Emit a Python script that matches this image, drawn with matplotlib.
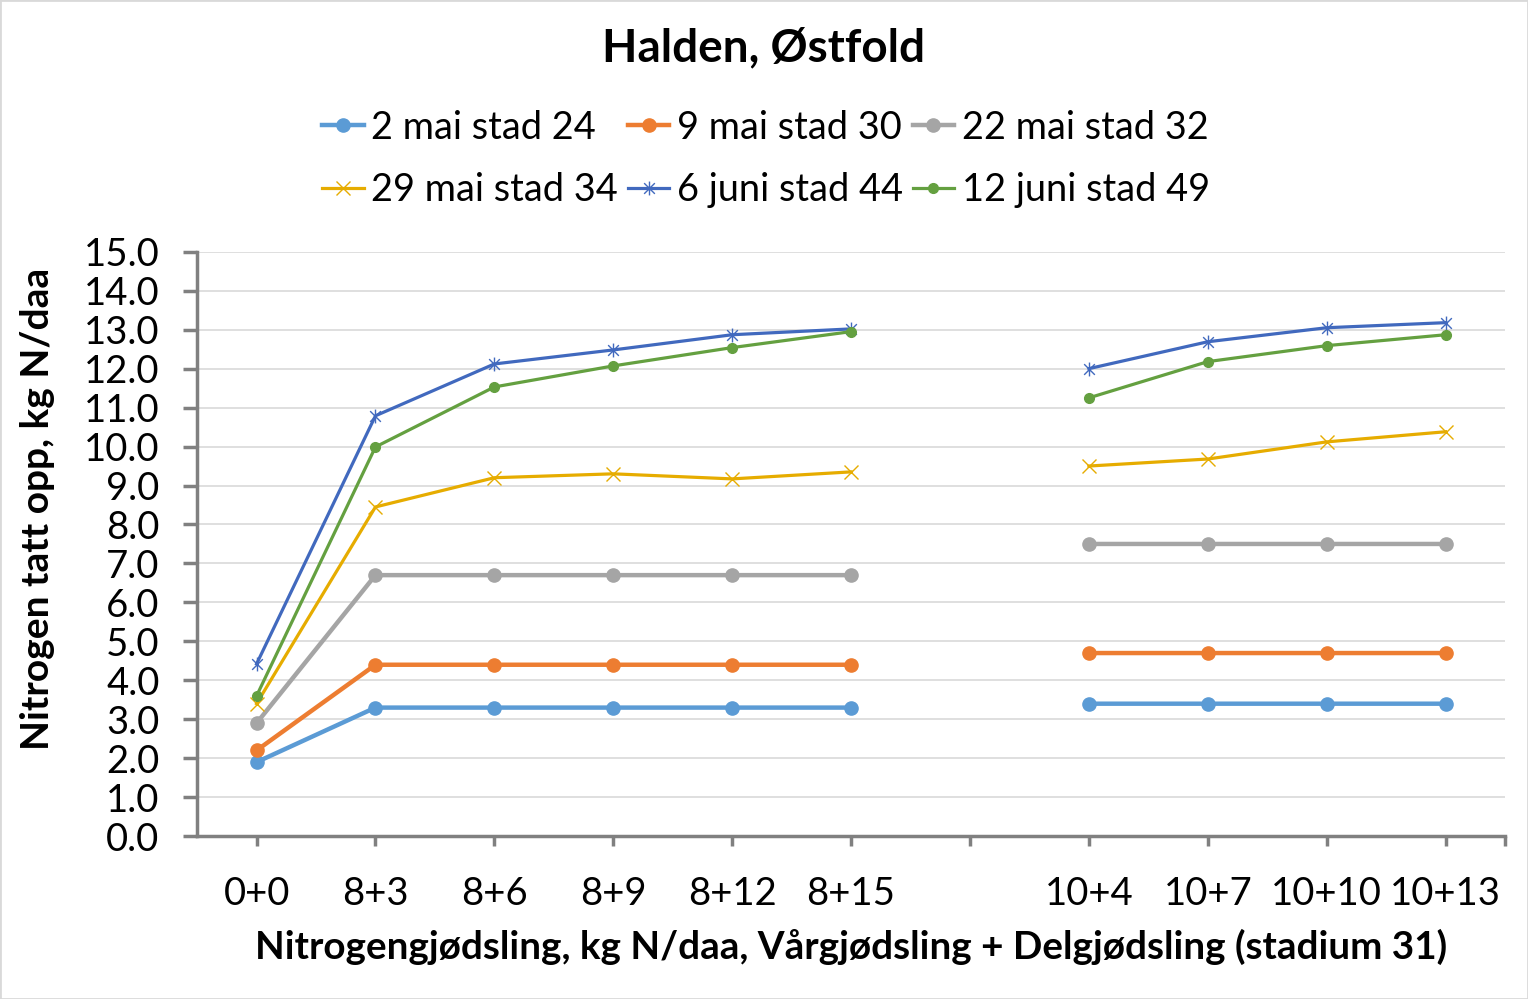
import matplotlib
matplotlib.use("Agg")
import matplotlib.pyplot as plt
from matplotlib.path import Path
from matplotlib.patches import Rectangle
import numpy as np

plt.rcParams['font.family'] = ['Lato', 'DejaVu Sans']

# data
categories = ['0+0', '8+3', '8+6', '8+9', '8+12', '8+15', '', '10+4', '10+7', '10+10', '10+13']
nan = np.nan
mai2 = [1.9, 3.3, 3.3, 3.3, 3.3, 3.3, nan, 3.4, 3.4, 3.4, 3.4]
mai9 = [2.2, 4.4, 4.4, 4.4, 4.4, 4.4, nan, 4.7, 4.7, 4.7, 4.7]
mai22 = [2.9, 6.7, 6.7, 6.7, 6.7, 6.7, nan, 7.5, 7.5, 7.5, 7.5]
mai29 = [3.4, 8.45, 9.2, 9.3, 9.17, 9.35, nan, 9.5, 9.68, 10.12, 10.38]
juni6 = [4.42, 10.79, 12.12, 12.48, 12.87, 13.02, nan, 12.0, 12.69, 13.05, 13.18]
juni12 = [3.6, 9.99, 11.53, 12.07, 12.54, 12.95, nan, 11.25, 12.18, 12.59, 12.87]
names = ['2 mai stad 24', '9 mai stad 30', '22 mai stad 32',
         '29 mai stad 34', '6 juni stad 44', '12 juni stad 49']

# excel style star: x plus vertical bar
star = Path([(-1, -1), (1, 1), (-1, 1), (1, -1), (0, -1.3), (0, 1.3)],
            [Path.MOVETO, Path.LINETO, Path.MOVETO, Path.LINETO, Path.MOVETO, Path.LINETO])

fig = plt.figure(figsize=(15.28, 9.99), dpi=100)
ax = fig.add_axes([0.129, 0.163, 0.856, 0.585])
x = np.arange(len(categories))

ax.plot(x, mai2, color='#5B9BD5', lw=3.2, marker='o', ms=9.5, label=names[0])
ax.plot(x, mai9, color='#ED7D31', lw=3.2, marker='o', ms=9.5, label=names[1])
ax.plot(x, mai22, color='#A5A5A5', lw=3.2, marker='o', ms=9.5, label=names[2])
ax.plot(x, mai29, color='#E6AC00', lw=2.3, marker='x', ms=10, mew=1, label=names[3])
ax.plot(x, juni6, color='#4169BE', lw=2.3, marker=star, ms=10, mew=1, label=names[4])
ax.plot(x, juni12, color='#64A040', lw=2.3, marker='o', ms=7, label=names[5])

ax.set_xlim(-0.5, 10.5)
ax.set_ylim(0, 15)
ax.set_yticks(np.arange(0, 15.1, 1.0))
ax.yaxis.set_major_formatter(matplotlib.ticker.FormatStrFormatter('%.1f'))
ax.set_xticks(x)
ax.set_xticklabels(categories)
ax.set_xticks([10.5], minor=True)
ax.grid(axis='y', color='#D9D9D9', lw=1.2)
ax.set_axisbelow(True)
for s in ['top', 'right']:
    ax.spines[s].set_visible(False)
for s in ['left', 'bottom']:
    ax.spines[s].set_color('#808080')
    ax.spines[s].set_linewidth(2.5)
ax.tick_params(axis='y', length=10, width=2.5, color='#808080', labelsize=27.5, pad=17)
ax.tick_params(axis='x', which='both', length=7, width=2.5, color='#808080', labelsize=27.5, pad=22)

fig.text(0.5, 1 - 48 / 999, 'Halden, Østfold', ha='center', va='center', fontsize=33, fontweight='bold')
fig.text(38 / 1528, 1 - 509 / 999, 'Nitrogen tatt opp, kg N/daa', rotation=90,
         ha='center', va='center', fontsize=28, fontweight='bold')
fig.text(851 / 1528, 1 - 947 / 999,
         'Nitrogengjødsling, kg N/daa, Vårgjødsling + Delgjødsling (stadium 31)',
         ha='center', va='center', fontsize=27.8, fontweight='bold')

# legend filled row by row like excel
h, l = ax.get_legend_handles_labels()
order = [0, 3, 1, 4, 2, 5]
fig.legend([h[i] for i in order], [l[i] for i in order], ncol=3, loc='center',
           bbox_to_anchor=(766 / 1528, 1 - 159 / 999),
           frameon=False, fontsize=27.4, handlelength=1.1, handletextpad=0.2,
           columnspacing=0.25, labelspacing=0.7, borderpad=0)

fig.patches.append(Rectangle((0, 0), 1, 1, transform=fig.transFigure, fill=False,
                             edgecolor='#D9D9D9', lw=2))
fig.savefig('out.png', dpi=100)
